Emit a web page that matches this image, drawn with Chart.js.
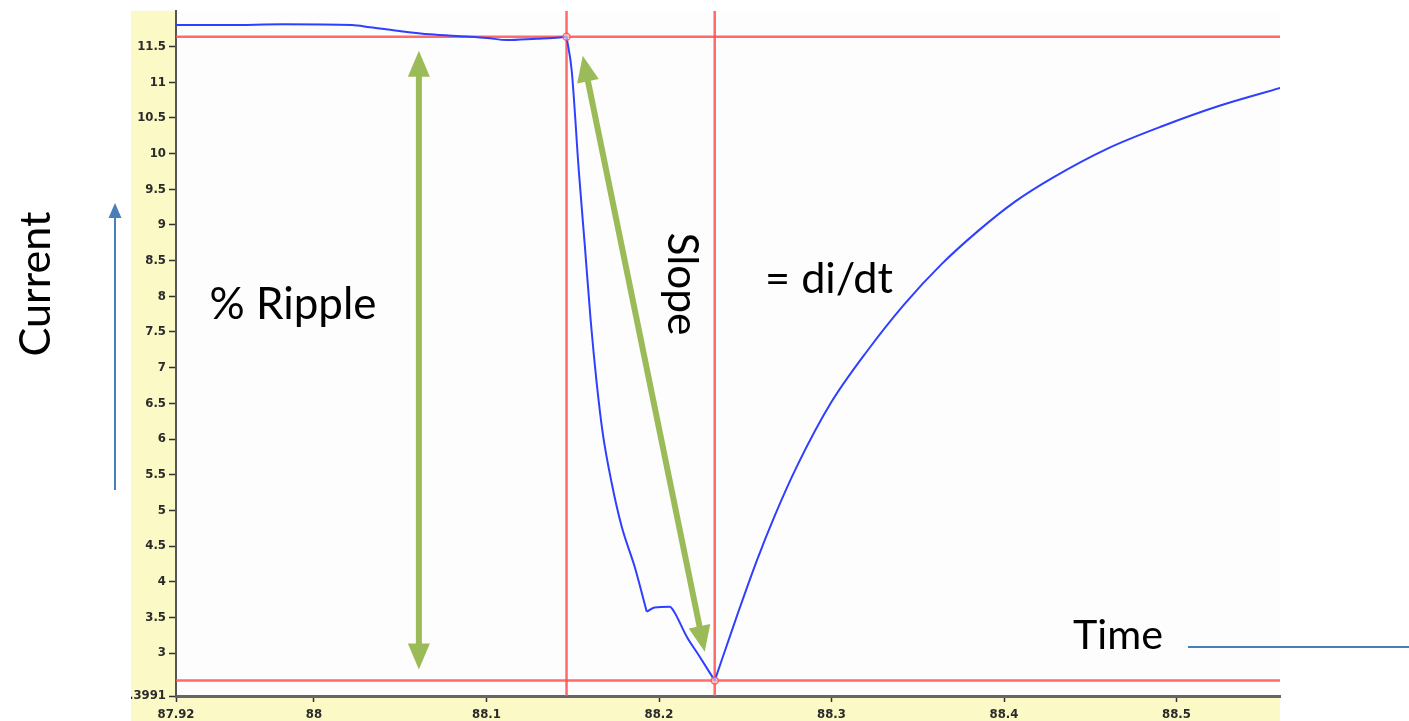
<!DOCTYPE html>
<html>
<head>
<meta charset="utf-8">
<title>Current vs Time</title>
<script src="https://cdn.jsdelivr.net/npm/chart.js@4.4.1/dist/chart.umd.min.js"></script>
<style>
  html, body { margin: 0; padding: 0; background: #fff; overflow: hidden; }
  #wrap { position: relative; width: 1409px; height: 721px; }
  #chart { position: absolute; left: 0; top: 0; }
  svg { position: absolute; left: 0; top: 0; pointer-events: none; }
  .note { position: absolute; left: 0; top: 0; font-family: Lato, 'Open Sans', sans-serif; color: #000; white-space: nowrap; line-height: 1; }
</style>
</head>
<body>
<div id="wrap">
  <canvas id="chart" width="1409" height="721"></canvas>
  <svg width="1409" height="721">
    <line x1="115" y1="490" x2="115" y2="216" stroke="#4a7ebb" stroke-width="2"/>
    <polygon points="115,203 108.5,218 121.5,218" fill="#4a7ebb"/>
    <line x1="1188" y1="647" x2="1409" y2="647" stroke="#4a7ebb" stroke-width="2"/>
  </svg>
  <div class="note" id="noteCurrent">Current</div>
  <div class="note" id="noteRipple">% Ripple</div>
  <div class="note" id="noteSlope">Slope</div>
  <div class="note" id="noteDidt">= di/dt</div>
  <div class="note" id="noteTime">Time</div>
</div>
<script>
// measured trace (time in s, current in A)
const timeVals = [
  87.92, 87.95, 87.982, 88.022, 88.0324, 88.0515, 88.0672, 88.0886, 88.1002, 88.1118, 88.1292, 88.1384,
  88.1464, 88.1494, 88.1535, 88.157, 88.1604, 88.1639, 88.1674, 88.1726, 88.1784, 88.1859, 88.1929,
  88.1975, 88.2062, 88.2085, 88.2161, 88.2236, 88.2323,
  88.2456, 88.2566, 88.2670, 88.2798, 88.2995, 88.3209, 88.3423, 88.3638, 88.3852, 88.4066, 88.4281,
  88.4600, 88.4924, 88.5249, 88.5602
];
const currentVals = [
  11.80, 11.80, 11.81, 11.80, 11.77, 11.71, 11.67, 11.64, 11.62, 11.59, 11.61, 11.62,
  11.636, 11.16, 9.76, 8.71, 7.66, 6.78, 6.08, 5.38, 4.77, 4.21, 3.58,
  3.64, 3.65, 3.59, 3.23, 2.95, 2.615,
  3.55, 4.29, 4.92, 5.61, 6.50, 7.24, 7.89, 8.45, 8.92, 9.33, 9.66,
  10.07, 10.39, 10.67, 10.92
];
// indices where the trace has a sharp corner: cursor 1, start of the plateau, trough
const cornerIndices = [12, 22, 28];

// cursors
const cursorTimes = [88.1464, 88.2323];
const cursorLevels = [11.636, 2.615];

// annotation arrows (data units)
const rippleArrowTime = [88.0608, 88.0608];
const rippleArrowCurrent = [11.44, 2.77];
const slopeArrowTime = [88.1558, 88.2265];
const slopeArrowCurrent = [11.37, 3.02];

// axes
const xRange = [87.92, 88.56];
const yRange = [2.3991, 12];
const xTickValues = [87.92, 88, 88.1, 88.2, 88.3, 88.4, 88.5];
const xTickLabels = ['87.92', '88', '88.1', '88.2', '88.3', '88.4', '88.5'];
const yTickValues = [2.3991, 3, 3.5, 4, 4.5, 5, 5.5, 6, 6.5, 7, 7.5, 8, 8.5, 9, 9.5, 10, 10.5, 11, 11.5];
const yTickLabels = ['2.3991', '3', '3.5', '4', '4.5', '5', '5.5', '6', '6.5', '7', '7.5', '8', '8.5', '9', '9.5', '10', '10.5', '11', '11.5'];

const RED = 'rgba(255, 80, 80, 0.85)';
const GREEN = '#9bbb59';
const TRACE = '#2f3fff';
const tickFont = { family: "'Liberation Sans Narrow', 'DejaVu Sans Condensed', 'Arial Narrow', sans-serif", size: 13, weight: 'bold' };

// yellow axis panels + plot background
const backdrop = {
    id: 'backdrop',
    beforeDraw(chart) {
        const { ctx, chartArea } = chart;
        ctx.save();
        ctx.fillStyle = '#fbf9c6';
        ctx.fillRect(131, chartArea.top, chartArea.left - 131, chart.height - chartArea.top);
        ctx.fillRect(131, chartArea.bottom, chartArea.right - 131, chart.height - chartArea.bottom);
        ctx.fillStyle = '#fdfdfd';
        ctx.fillRect(chartArea.left, chartArea.top, chartArea.right - chartArea.left, chartArea.bottom - chartArea.top);
        ctx.restore();
    }
};

function drawArrow(ctx, x1, y1, x2, y2) {
    const head = 26, half = 11;
    const ang = Math.atan2(y2 - y1, x2 - x1);
    const ux = Math.cos(ang), uy = Math.sin(ang);
    ctx.beginPath();
    ctx.moveTo(x1 + ux * head * 0.9, y1 + uy * head * 0.9);
    ctx.lineTo(x2 - ux * head * 0.9, y2 - uy * head * 0.9);
    ctx.stroke();
    [[x1, y1, -1], [x2, y2, 1]].forEach(([x, y, s]) => {
        const bx = x - s * ux * head, by = y - s * uy * head;
        ctx.beginPath();
        ctx.moveTo(x, y);
        ctx.lineTo(bx - uy * half, by + ux * half);
        ctx.lineTo(bx + uy * half, by - ux * half);
        ctx.closePath();
        ctx.fill();
    });
}

const arrows = {
    id: 'arrows',
    afterDatasetsDraw(chart) {
        const { ctx } = chart;
        const xs = chart.scales.x, ys = chart.scales.y;
        ctx.save();
        ctx.strokeStyle = GREEN;
        ctx.fillStyle = GREEN;
        ctx.lineWidth = 6;
        drawArrow(ctx,
            xs.getPixelForValue(rippleArrowTime[0]), ys.getPixelForValue(rippleArrowCurrent[0]),
            xs.getPixelForValue(rippleArrowTime[1]), ys.getPixelForValue(rippleArrowCurrent[1]));
        drawArrow(ctx,
            xs.getPixelForValue(slopeArrowTime[0]), ys.getPixelForValue(slopeArrowCurrent[0]),
            xs.getPixelForValue(slopeArrowTime[1]), ys.getPixelForValue(slopeArrowCurrent[1]));
        ctx.restore();
    }
};

const tracePoints = timeVals.map((t, i) => ({ x: t, y: currentVals[i] }));

// the trace is split at its sharp corners so each smooth piece gets its own curve
const bounds = [0, ...cornerIndices, tracePoints.length - 1];
const traceSegments = bounds.slice(0, -1).map((start, k) => ({
    label: 'Current',
    data: tracePoints.slice(start, bounds[k + 1] + 1),
    borderColor: TRACE,
    borderWidth: 2,
    pointRadius: 0,
    cubicInterpolationMode: 'monotone',
    order: 1
}));

const verticalCursors = cursorTimes.map(t => ({
    data: [{ x: t, y: yRange[0] }, { x: t, y: yRange[1] }],
    borderColor: RED, borderWidth: 2.5, pointRadius: 0, order: 3
}));
const horizontalCursors = cursorLevels.map(v => ({
    data: [{ x: xRange[0], y: v }, { x: xRange[1], y: v }],
    borderColor: RED, borderWidth: 2.5, pointRadius: 0, order: 3
}));

new Chart(document.getElementById('chart'), {
    type: 'line',
    data: {
        datasets: [
            ...traceSegments,
            {
                label: 'Cursor points',
                data: cursorTimes.map((t, i) => ({ x: t, y: cursorLevels[i] })),
                showLine: false,
                pointRadius: 3.5,
                pointBorderWidth: 1.5,
                pointBorderColor: RED,
                pointBackgroundColor: 'rgba(255,255,255,0.5)',
                order: 0
            },
            ...verticalCursors,
            ...horizontalCursors
        ]
    },
    options: {
        responsive: false,
        animation: false,
        devicePixelRatio: 1,
        events: [],
        layout: { padding: { left: 131, top: 10, right: 129, bottom: 0 } },
        plugins: {
            legend: { display: false },
            tooltip: { enabled: false }
        },
        scales: {
            x: {
                type: 'linear',
                min: xRange[0],
                max: xRange[1],
                afterBuildTicks: (scale) => { scale.ticks = xTickValues.map(v => ({ value: v })); },
                afterFit: (scale) => { scale.height = 25; },
                ticks: {
                    autoSkip: false,
                    maxRotation: 0,
                    padding: 5,
                    color: '#2a2a2a',
                    font: tickFont,
                    callback: (v, i) => xTickLabels[i]
                },
                grid: { drawOnChartArea: false, tickLength: 6, tickColor: '#333', tickWidth: 1.5 },
                border: { color: '#666', width: 3 }
            },
            y: {
                type: 'linear',
                min: yRange[0],
                max: yRange[1],
                afterBuildTicks: (scale) => { scale.ticks = yTickValues.map(v => ({ value: v })); },
                afterFit: (scale) => { scale.width = 45; },
                ticks: {
                    autoSkip: false,
                    padding: 3,
                    color: '#2a2a2a',
                    font: tickFont,
                    callback: (v, i) => yTickLabels[i]
                },
                grid: { drawOnChartArea: false, tickLength: 7, tickColor: '#333', tickWidth: 1.5 },
                border: { color: '#555', width: 2 }
            }
        }
    },
    plugins: [backdrop, arrows]
});

// annotation text, sized to the reference width and centred on a point
function placeNote(id, cx, cy, w, deg) {
    const el = document.getElementById(id);
    el.style.fontSize = '100px';
    const f = 100 * w / el.getBoundingClientRect().width;
    el.style.fontSize = f + 'px';
    el.style.left = cx + 'px';
    el.style.top = cy + 'px';
    el.style.transform = `translate(-50%, -50%) rotate(${deg}deg)`;
}

placeNote('noteCurrent', 34, 284, 145, -90);
placeNote('noteRipple', 293, 303, 167, 0);
placeNote('noteSlope', 684, 284, 103, 90);
placeNote('noteDidt', 829, 277, 128, 0);
placeNote('noteTime', 1118, 634, 90, 0);
</script>
</body>
</html>
